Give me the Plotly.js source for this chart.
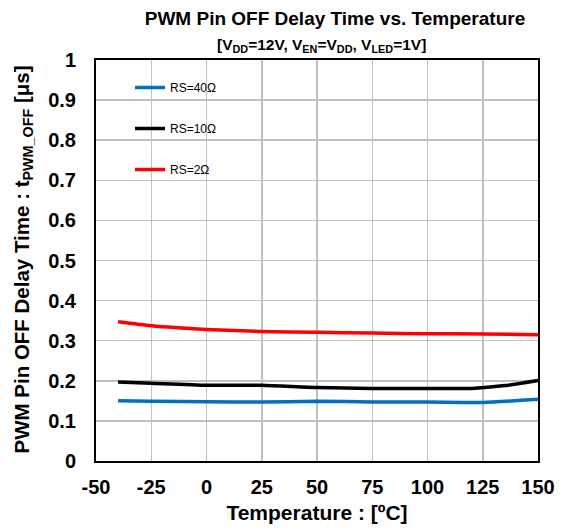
<!DOCTYPE html>
<html><head><meta charset="utf-8">
<script src="https://cdn.plot.ly/plotly-3.0.1.min.js"></script>
<style>html,body{margin:0;padding:0;background:#fff}</style>
</head><body>
<div id="chart" style="width:561px;height:532px"></div>
<script>
var temps40 = [-40, -25, 0, 25, 50, 75, 100, 125, 150];
var rs40 = [0.150, 0.149, 0.148, 0.147, 0.149, 0.147, 0.147, 0.146, 0.154];
var temps10 = [-40, -25, 0, 25, 50, 75, 100, 120, 135, 150];
var rs10 = [0.197, 0.194, 0.189, 0.189, 0.183, 0.181, 0.181, 0.181, 0.188, 0.201];
var temps2 = [-40, -25, 0, 25, 50, 75, 100, 125, 150];
var rs2 = [0.347, 0.337, 0.328, 0.323, 0.321, 0.319, 0.3175, 0.317, 0.315];
var names = ['RS=40\u03A9', 'RS=10\u03A9', 'RS=2\u03A9'];
var colors = ['#0070C0', '#000000', '#FF0000'];
var xTickVals = [-50, -25, 0, 25, 50, 75, 100, 125, 150];
var xTickText = ['-50', '-25', '0', '25', '50', '75', '100', '125', '150'];
var yTickVals = [0, 0.1, 0.2, 0.3, 0.4, 0.5, 0.6, 0.7, 0.8, 0.9, 1];
var yTickText = ['0', '0.1', '0.2', '0.3', '0.4', '0.5', '0.6', '0.7', '0.8', '0.9', '1'];

var F = 'Liberation Sans, Arial, sans-serif';
var traces = [
  {x: temps40, y: rs40, name: names[0], legendgroup: 'a'},
  {x: temps10, y: rs10, name: names[1], legendgroup: 'b'},
  {x: temps2, y: rs2, name: names[2], legendgroup: 'c'}
].map(function(t, i){
  t.type = 'scatter'; t.mode = 'lines';
  t.line = {color: colors[i], width: 3.5, shape: 'spline', smoothing: 0.6};
  return t;
});
function bold(a){ return a.map(function(s){ return '<b>' + s + '</b>'; }); }

var layout = {
  width: 561, height: 532,
  margin: {l: 96, r: 23, t: 60, b: 71},
  paper_bgcolor: '#fff', plot_bgcolor: '#fff',
  font: {family: F, color: '#000'},
  title: {text: '<b>PWM Pin OFF Delay Time vs. Temperature</b>', font: {size: 19, family: F},
          xref: 'paper', x: (335-96)/442, xanchor: 'center', yref: 'container', y: 1 - 18/532, yanchor: 'middle'},
  annotations: [{
    text: '<b>[V<sub>DD</sub>=12V, V<sub>EN</sub>=V<sub>DD</sub>, V<sub>LED</sub>=1V]</b>',
    xref: 'paper', yref: 'paper', x: (321-96)/442, y: 1, xanchor: 'center', yanchor: 'bottom',
    yshift: 3, showarrow: false, font: {size: 15.5, family: F}
  }, {
    text: '<b>PWM Pin OFF Delay Time : t<sub>PWM_OFF</sub> [μs]</b>',
    xref: 'paper', yref: 'paper', x: (22-96)/442, y: (461-259.5)/401,
    xanchor: 'center', yanchor: 'middle', textangle: -90,
    showarrow: false, font: {size: 20.5, family: F}
  }],
  xaxis: {
    range: [-50, 150], tickmode: 'array', tickvals: xTickVals, ticktext: bold(xTickText),
    showgrid: true, gridcolor: '#C0C0C0', gridwidth: 1.5,
    showline: true, linecolor: '#000', linewidth: 2, mirror: true,
    zeroline: false, ticks: '', ticklabelstandoff: 7,
    tickfont: {size: 20, family: F},
    title: {text: '<b>Temperature : [ºC]</b>', font: {size: 21, family: F}, standoff: 8}
  },
  yaxis: {
    range: [0, 1], tickmode: 'array', tickvals: yTickVals, ticktext: bold(yTickText),
    showgrid: true, gridcolor: '#C0C0C0', gridwidth: 1.5,
    showline: true, linecolor: '#000', linewidth: 2, mirror: true,
    zeroline: false, ticks: '', ticklabelstandoff: 14,
    tickfont: {size: 20, family: F}
  },
  shapes: [{
    type: 'rect', xref: 'paper', yref: 'paper', layer: 'below',
    x0: (106-96)/442, x1: (243-96)/442, y0: (461-185)/401, y1: (461-66)/401,
    fillcolor: '#fff', line: {width: 0}
  }],
  showlegend: true,
  legend: {
    x: (130-96)/442, y: (461-73)/401, xanchor: 'left', yanchor: 'top',
    bgcolor: 'rgba(0,0,0,0)', borderwidth: 0,
    traceorder: 'grouped', tracegroupgap: 22,
    font: {size: 12, family: F}
  }
};
Plotly.newPlot('chart', traces, layout, {displayModeBar: false, staticPlot: true});
</script>
</body></html>
